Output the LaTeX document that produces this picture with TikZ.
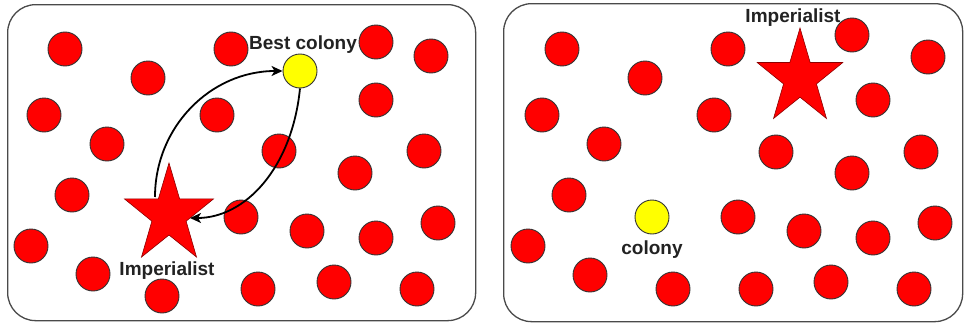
\documentclass[tikz,border=0pt]{standalone}
\usepackage{fontspec}
\setmainfont{Liberation Sans}
\usetikzlibrary{shapes.geometric,arrows.meta,calc}
\definecolor{rd}{HTML}{FF0000}
\definecolor{yl}{HTML}{FFFF00}
\definecolor{edge}{HTML}{333333}
\definecolor{frame}{HTML}{4A4A4A}
\definecolor{txt}{HTML}{222222}
\tikzset{
  dot/.style={circle,fill=rd,draw=edge,line width=0.9pt,minimum size=34pt,inner sep=0pt},
  ydot/.style={circle,fill=yl,draw=edge,line width=0.9pt,minimum size=34pt,inner sep=0pt},
  starfill/.style={fill=rd,draw=red!55!black,line width=0.6pt,line join=miter},
  lbl/.style={text=txt,font=\bfseries\fontsize{19}{19}\selectfont,inner sep=0pt},
  panel/.style={draw=frame,line width=1.3pt,rounded corners=28pt,fill=white},
  arr/.style={line width=1.8pt,-{Stealth[length=11pt,width=10pt,inset=3pt]}}
}
% star path: #1 outer radius, #2 inner radius, #3 x-scale
\newcommand{\mystar}[3]{%
  (0,-#1*1)
  \foreach \k in {1,...,9}{%
    \pgfextra{\pgfmathsetmacro{\rr}{mod(\k,2)==0 ? #1 : #2}}
    -- ({\rr*#3*cos(90+36*\k)},{-\rr*sin(90+36*\k)})
  } -- cycle}
\begin{document}
\begin{tikzpicture}[x=1pt,y=-1pt]
\useasboundingbox (0,0) rectangle (964,324);
\fill[white] (0,0) rectangle (964,324);
% frames
\node[panel,inner sep=0pt,minimum width=468pt,minimum height=316pt,anchor=north west] (fl) at (7,4) {};
\node[panel,inner sep=0pt,minimum width=459pt,minimum height=318pt,anchor=north west] (fr) at (503,3) {};
% left panel dots
\foreach \x/\y [count=\i] in {65/49,148/78,231/49,376/42,431/56,44/115,217/115,376/100,107/144,279/151,424/151,355/173,72/195,241/217,307/231,376/238,438/223,31/246,93/274,162/296,258/289,334/282,417/289}
  \node[dot] (L\i) at (\x,\y) {};
\node[ydot] (Ly) at (300,71) {};
\coordinate (Ls) at (169,215);
\draw[starfill,shift={(Ls)}] \mystar{52}{20}{0.9};
% right panel dots
\foreach \x/\y [count=\i] in {562/49,645/78,728/49,852/35,928/57,542/115,714/115,873/100,604/144,776/152,921/152,852/173,569/195,738/217,804/231,873/238,935/223,528/246,590/275,673/289,756/289,831/282,914/289}
  \node[dot] (R\i) at (\x,\y) {};
\node[ydot] (Ry) at (652,217) {};
\coordinate (Rs) at (800,78);
\draw[starfill,shift={(Rs)}] \mystar{50}{19.2}{0.9};
% labels
\node[lbl] (tL1) at (303,45) {Best colony};
\node[lbl] (tL2) at (167,271) {Imperialist};
\node[lbl] (tR1) at (793,18) {Imperialist};
\node[lbl] (tR2) at (652,250) {colony};
% arrows
\draw[arr] ($(Ls)+(-14,-18)$) .. controls +(0,-70) and +(-72,0) .. (Ly.west);
\draw[arr] (Ly.south) .. controls +(-8,80) and +(55,0) .. ($(Ls)+(21,3)$);
\end{tikzpicture}
\end{document}
